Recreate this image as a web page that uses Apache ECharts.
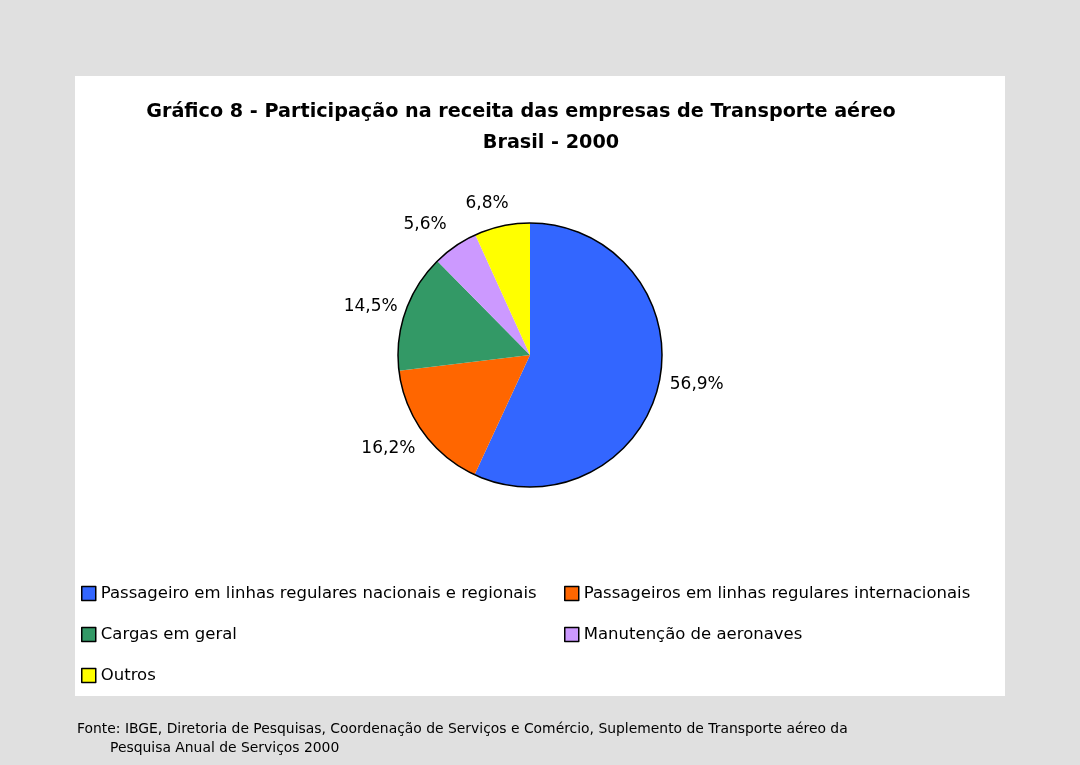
<!DOCTYPE html>
<html>
<head>
<meta charset="utf-8">
<script src="https://cdn.jsdelivr.net/npm/echarts@6/dist/echarts.min.js"></script>
<style>
  html, body { margin: 0; padding: 0; background: #e0e0e0; }
  #chart { width: 1080px; height: 765px; }
</style>
</head>
<body>
<div id="chart"></div>
<script>
// dados do gráfico
const categories = [
  'Passageiro em linhas regulares nacionais e regionais',
  'Passageiros em linhas regulares internacionais',
  'Cargas em geral',
  'Manutenção de aeronaves',
  'Outros'
]
const shares = [56.9, 16.2, 14.5, 5.6, 6.8]
const colors = ['#3366ff', '#ff6600', '#339966', '#cc99ff', '#ffff00']

const font = '"DejaVu Sans", Verdana, sans-serif'

// posição das legendas (duas colunas, três linhas)
const legendPos = [
  {left: 76, top: 580},
  {left: 559, top: 580},
  {left: 76, top: 621},
  {left: 559, top: 621},
  {left: 76, top: 662}
]
// pequenos ajustes dos rótulos, como no Excel
const labelNudge = [[0, 0], [2, 12], [3, -3], [0, -17], [13, -17]]

const chart = echarts.init(document.getElementById('chart'))

chart.setOption({
  backgroundColor: '#e0e0e0',
  animation: false,
  color: colors,
  graphic: [{
    type: 'rect',
    shape: {x: 75, y: 76, width: 930, height: 620},
    style: {fill: '#ffffff'},
    z: -10
  }],
  title: [{
    text: 'Gráfico 8 - Participação na receita das empresas de Transporte aéreo',
    left: 516, top: 98, textAlign: 'center',
    textStyle: {fontFamily: font, fontWeight: 'bold', fontSize: 19.2, color: '#000'}
  }, {
    text: 'Brasil - 2000',
    left: 546, top: 129, textAlign: 'center',
    textStyle: {fontFamily: font, fontWeight: 'bold', fontSize: 19.2, color: '#000'}
  }, {
    text: 'Fonte: IBGE, Diretoria de Pesquisas, Coordenação de Serviços e Comércio, Suplemento de Transporte aéreo da',
    left: 72, top: 717,
    textStyle: {fontFamily: font, fontWeight: 'normal', fontSize: 13.9, color: '#000'}
  }, {
    text: 'Pesquisa Anual de Serviços 2000',
    left: 105, top: 736,
    textStyle: {fontFamily: font, fontWeight: 'normal', fontSize: 13.9, color: '#000'}
  }],
  legend: categories.map((name, i) => ({
    data: [name],
    left: legendPos[i].left,
    top: legendPos[i].top,
    icon: 'rect',
    itemWidth: 14,
    itemHeight: 14,
    itemGap: 0,
    selectedMode: false,
    itemStyle: {borderColor: '#000', borderWidth: 1.5},
    textStyle: {fontFamily: font, fontSize: 16.5, color: '#000', padding: [0, 0, 0, 0]}
  })),
  series: [{
    name: 'receita',
    type: 'pie',
    center: [530, 355],
    radius: 132,
    startAngle: 90,
    clockwise: true,
    silent: true,
    itemStyle: {borderWidth: 0},
    label: {
      show: true,
      position: 'outside',
      fontFamily: font,
      fontSize: 17,
      color: '#000',
      formatter: p => p.value.toFixed(1).replace('.', ',') + '%'
    },
    labelLine: {show: false, length: 6, length2: 0},
    data: categories.map((name, i) => ({
      name,
      value: shares[i],
      label: {offset: labelNudge[i]}
    }))
  }, {
    // contorno externo da pizza
    name: 'contorno',
    type: 'pie',
    center: [530, 355],
    radius: 132,
    silent: true,
    label: {show: false},
    labelLine: {show: false},
    itemStyle: {color: 'transparent', borderColor: '#000', borderWidth: 1.5},
    data: [{name: 'contorno', value: 1}],
    z: 3
  }]
})
</script>
</body>
</html>
